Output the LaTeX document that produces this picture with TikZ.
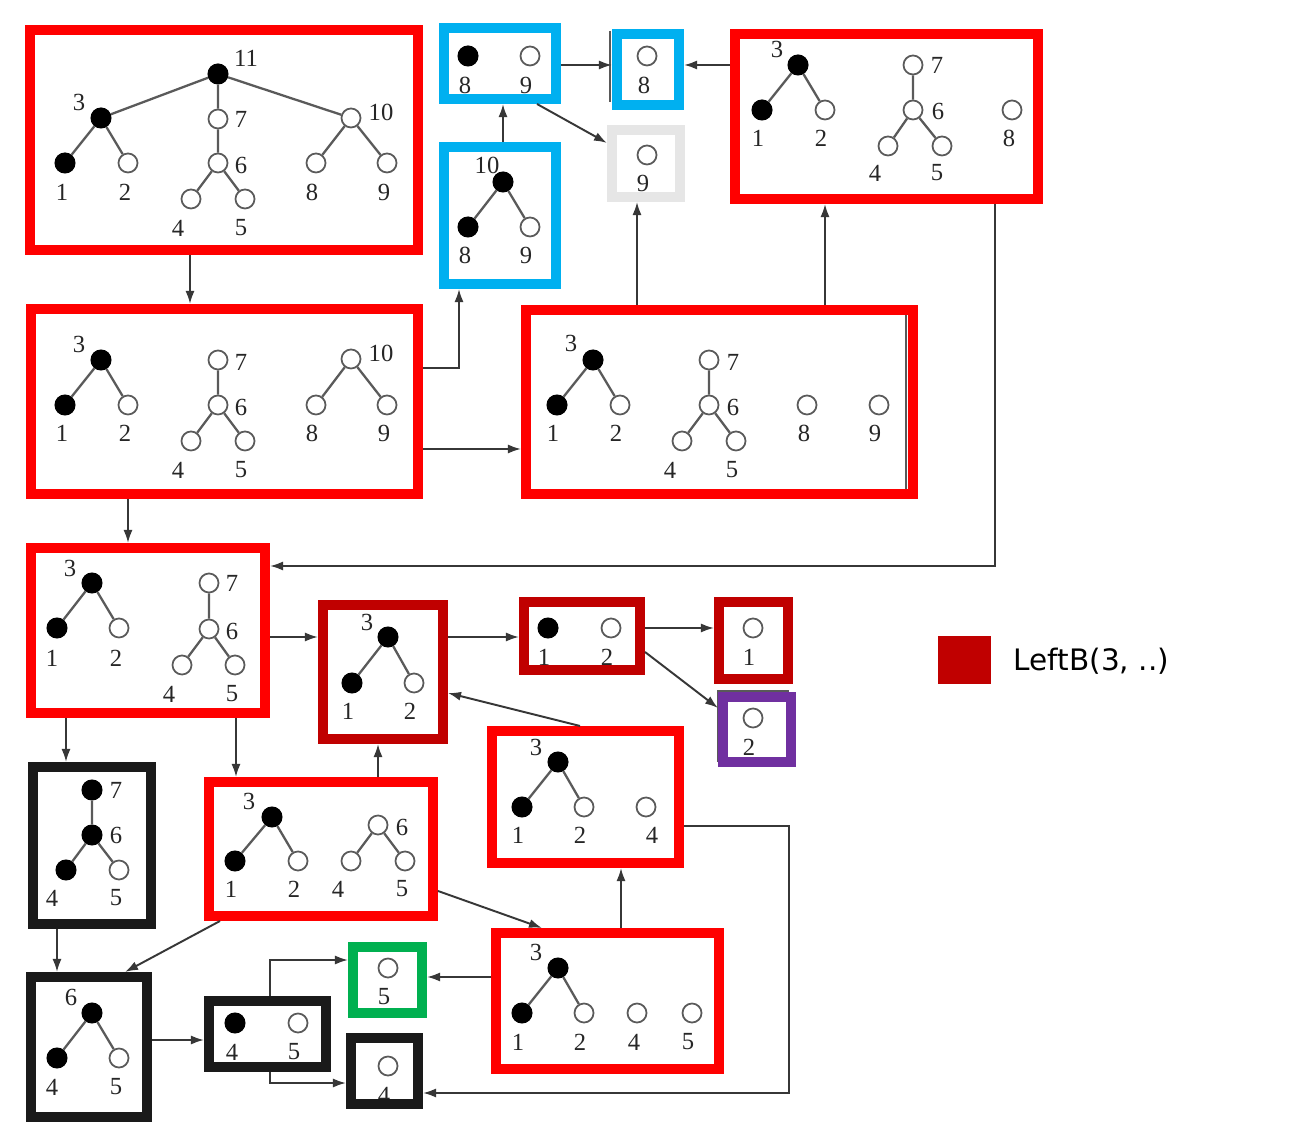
\documentclass[tikz,border=0pt]{standalone}
\usepackage{fontspec}
\setmainfont{Liberation Serif}
\newfontfamily\legendfont{DejaVu Sans}
\usetikzlibrary{arrows.meta}
\definecolor{bred}{RGB}{255,0,0}
\definecolor{bdred}{RGB}{192,0,0}
\definecolor{bblue}{RGB}{0,176,240}
\definecolor{bgray}{RGB}{230,230,230}
\definecolor{bgreen}{RGB}{0,176,80}
\definecolor{bpurple}{RGB}{112,48,160}
\definecolor{bblack}{RGB}{26,26,26}
\definecolor{arrgray}{RGB}{55,55,55}
\definecolor{edgegray}{RGB}{90,90,90}
\tikzset{
  fcirc/.style={circle,fill=black,draw=black,line width=0.3pt,minimum size=0.2cm,inner sep=0pt},
  ocirc/.style={circle,fill=white,draw=edgegray,line width=0.5pt,minimum size=0.19cm,inner sep=0pt},
  tedge/.style={draw=edgegray,line width=0.65pt},
  lbl/.style={inner sep=0pt,text=black!85,font=\fontsize{7}{8}\selectfont},
  boxst/.style={rectangle,line width=0.1cm,inner sep=0pt,outer sep=0.05cm},
  arr/.style={draw=arrgray,line width=0.55pt,-{Latex[length=1.3mm,width=0.9mm]}},
}
\newcommand\FN[3]{\node[fcirc] (#1) at (#2,#3) {};}
\newcommand\ON[3]{\node[ocirc] (#1) at (#2,#3) {};}
\newcommand\LB[4]{\node[lbl] (#1) at (#2,#3) {#4};}
\newcommand\BX[6]{\node[boxst,draw=#2,minimum width={(#5-#3)*0.01cm},minimum height={(#6-#4)*0.01cm}] (#1) at ({(#3+#5)/2},{(#4+#6)/2}) {};}
\begin{document}
\begin{tikzpicture}[x=0.01cm,y=-0.01cm]
\path[fill=white,use as bounding box] (0,0) rectangle (1300,1125);
% ---------- trees ----------
% A
\FN{a11}{218}{74}\FN{a3}{101}{118}\FN{a1}{65}{163}\ON{a2}{128}{163}
\ON{a7}{218}{119}\ON{a6}{218}{163}\ON{a4}{191}{199}\ON{a5}{245}{199}
\ON{a10}{351}{118}\ON{a8}{316}{163}\ON{a9}{387}{163}
\draw[tedge] (a11)--(a3) (a11)--(a7) (a11)--(a10) (a3)--(a1) (a3)--(a2) (a7)--(a6) (a6)--(a4) (a6)--(a5) (a10)--(a8) (a10)--(a9);
\LB{la11}{246}{58}{11}\LB{la3}{79}{102}{3}\LB{la1}{62}{192}{1}\LB{la2}{125}{192}{2}
\LB{la7}{241}{119}{7}\LB{la6}{241}{165}{6}\LB{la4}{178}{228}{4}\LB{la5}{241}{228}{5}
\LB{la10}{381}{112}{10}\LB{la8}{312}{192}{8}\LB{la9}{384}{192}{9}
% B
\FN{b3}{101}{360}\FN{b1}{65}{405}\ON{b2}{128}{405}
\ON{b7}{218}{360}\ON{b6}{218}{405}\ON{b4}{191}{441}\ON{b5}{245}{441}
\ON{b10}{351}{359}\ON{b8}{316}{405}\ON{b9}{387}{405}
\draw[tedge] (b3)--(b1) (b3)--(b2) (b7)--(b6) (b6)--(b4) (b6)--(b5) (b10)--(b8) (b10)--(b9);
\LB{lb3}{79}{344}{3}\LB{lb1}{62}{433}{1}\LB{lb2}{125}{433}{2}
\LB{lb7}{241}{362}{7}\LB{lb6}{241}{407}{6}\LB{lb4}{178}{470}{4}\LB{lb5}{241}{470}{5}
\LB{lb10}{381}{353}{10}\LB{lb8}{312}{433}{8}\LB{lb9}{384}{433}{9}
% C
\FN{c3}{593}{360}\FN{c1}{557}{405}\ON{c2}{620}{405}
\ON{c7}{709}{360}\ON{c6}{709}{405}\ON{c4}{682}{441}\ON{c5}{736}{441}
\ON{c8}{807}{405}\ON{c9}{879}{405}
\draw[tedge] (c3)--(c1) (c3)--(c2) (c7)--(c6) (c6)--(c4) (c6)--(c5);
\LB{lc3}{571}{343}{3}\LB{lc1}{553}{433}{1}\LB{lc2}{616}{433}{2}
\LB{lc7}{733}{362}{7}\LB{lc6}{733}{407}{6}\LB{lc4}{670}{470}{4}\LB{lc5}{732}{470}{5}
\LB{lc8}{804}{433}{8}\LB{lc9}{875}{433}{9}
% D
\FN{d3}{798}{65}\FN{d1}{762}{110}\ON{d2}{825}{110}
\ON{d7}{913}{65}\ON{d6}{913}{110}\ON{d4}{888}{146}\ON{d5}{942}{146}\ON{d8}{1012}{110}
\draw[tedge] (d3)--(d1) (d3)--(d2) (d7)--(d6) (d6)--(d4) (d6)--(d5);
\LB{ld3}{777}{49}{3}\LB{ld1}{758}{138}{1}\LB{ld2}{821}{138}{2}
\LB{ld7}{937}{65}{7}\LB{ld6}{938}{111}{6}\LB{ld4}{875}{173}{4}\LB{ld5}{937}{173}{5}\LB{ld8}{1009}{138}{8}
% E F G H
\FN{e8}{468}{56}\ON{e9}{530}{56}\LB{le8}{465}{85}{8}\LB{le9}{526}{85}{9}
\ON{f8}{647}{56}\LB{lf8}{644}{85}{8}
\ON{g9}{647}{155}\LB{lg9}{643}{183}{9}
\FN{h10}{503}{182}\FN{h8}{468}{227}\ON{h9}{530}{227}
\draw[tedge] (h10)--(h8) (h10)--(h9);
\LB{lh10}{487}{165}{10}\LB{lh8}{465}{255}{8}\LB{lh9}{526}{255}{9}
% I
\FN{i3}{92}{583}\FN{i1}{57}{628}\ON{i2}{119}{628}
\ON{i7}{209}{583}\ON{i6}{209}{629}\ON{i4}{182}{665}\ON{i5}{235}{665}
\draw[tedge] (i3)--(i1) (i3)--(i2) (i7)--(i6) (i6)--(i4) (i6)--(i5);
\LB{li3}{70}{568}{3}\LB{li1}{52}{658}{1}\LB{li2}{116}{658}{2}
\LB{li7}{232}{583}{7}\LB{li6}{232}{631}{6}\LB{li4}{169}{694}{4}\LB{li5}{232}{694}{5}
% J K L M
\FN{j3}{388}{637}\FN{j1}{352}{683}\ON{j2}{414}{683}
\draw[tedge] (j3)--(j1) (j3)--(j2);
\LB{lj3}{367}{622}{3}\LB{lj1}{348}{711}{1}\LB{lj2}{410}{711}{2}
\FN{k1}{548}{628}\ON{k2}{611}{628}\LB{lk1}{544}{657}{1}\LB{lk2}{607}{657}{2}
\ON{l1}{753}{628}\LB{ll1}{749}{657}{1}
\ON{m2}{753}{718}\LB{lm2}{749}{747}{2}
% N
\FN{n3}{558}{762}\FN{n1}{522}{807}\ON{n2}{584}{807}\ON{n4}{646}{807}
\draw[tedge] (n3)--(n1) (n3)--(n2);
\LB{ln3}{536}{747}{3}\LB{ln1}{518}{835}{1}\LB{ln2}{580}{835}{2}\LB{ln4}{652}{835}{4}
% O
\FN{o3}{272}{817}\FN{o1}{235}{861}\ON{o2}{298}{861}\ON{o6}{378}{825}\ON{o4}{351}{861}\ON{o5}{405}{861}
\draw[tedge] (o3)--(o1) (o3)--(o2) (o6)--(o4) (o6)--(o5);
\LB{lo3}{249}{801}{3}\LB{lo1}{231}{889}{1}\LB{lo2}{294}{889}{2}\LB{lo6}{402}{827}{6}\LB{lo4}{338}{889}{4}\LB{lo5}{402}{889}{5}
% P
\FN{p7}{92}{790}\FN{p6}{92}{835}\FN{p4}{66}{870}\ON{p5}{119}{870}
\draw[tedge] (p7)--(p6) (p6)--(p4) (p6)--(p5);
\LB{lp7}{116}{790}{7}\LB{lp6}{116}{835}{6}\LB{lp4}{52}{898}{4}\LB{lp5}{116}{898}{5}
% R
\FN{r6}{92}{1013}\FN{r4}{57}{1058}\ON{r5}{119}{1058}
\draw[tedge] (r6)--(r4) (r6)--(r5);
\LB{lr6}{71}{997}{6}\LB{lr4}{52}{1087}{4}\LB{lr5}{116}{1087}{5}
% S T Q
\FN{s4}{235}{1023}\ON{s5}{298}{1023}\LB{ls4}{232}{1052}{4}\LB{ls5}{294}{1052}{5}
\ON{t5}{388}{968}\LB{lt5}{384}{997}{5}
\ON{q4}{388}{1066}\LB{lq4}{384}{1095}{4}
% U
\FN{u3}{558}{968}\FN{u1}{522}{1013}\ON{u2}{584}{1013}\ON{u4}{637}{1013}\ON{u5}{692}{1013}
\draw[tedge] (u3)--(u1) (u3)--(u2);
\LB{lu3}{536}{952}{3}\LB{lu1}{518}{1042}{1}\LB{lu2}{580}{1042}{2}\LB{lu4}{634}{1042}{4}\LB{lu5}{688}{1042}{5}
% ---------- leftover thin frame lines ----------
\draw[gray!70!black,line width=0.4pt] (906,313) -- (906,491);
\draw[gray!70!black,line width=0.4pt] (610,31) -- (610,102);
\draw[gray!70!black,line width=0.4pt] (718,762) -- (718,691) -- (789,691);
% ---------- boxes ----------
\BX{A}{bred}{30}{30}{418}{250}
\BX{B}{bred}{31}{309}{418}{494}
\BX{C}{bred}{526}{310}{913}{494}
\BX{D}{bred}{735}{34}{1038}{199}
\BX{E}{bblue}{444}{28}{556}{99}
\BX{F}{bblue}{617}{34}{679}{105}
\BX{G}{bgray}{612}{130}{680}{197}
\BX{H}{bblue}{444}{147}{556}{284}
\BX{I}{bred}{31}{548}{265}{713}
\BX{J}{bdred}{323}{605}{443}{739}
\BX{K}{bdred}{524}{602}{640}{670}
\BX{L}{bdred}{719}{602}{788}{679}
\BX{M}{bpurple}{723}{697}{791}{762}
\BX{N}{bred}{492}{731}{679}{863}
\BX{O}{bred}{209}{782}{433}{916}
\BX{P}{bblack}{33}{767}{151}{924}
\BX{R}{bblack}{31}{977}{147}{1117}
\BX{S}{bblack}{209}{1001}{326}{1067}
\BX{T}{bgreen}{353}{947}{422}{1013}
\BX{Q}{bblack}{351}{1038}{418}{1104}
\BX{U}{bred}{496}{933}{719}{1069}
% ---------- connectors ----------
\draw[arr] (A.south -| 190,0) -- (B.north -| 190,0);
\draw[arr] (B.east |- 0,368) -| (H.south -| 459,0);
\draw[arr] (B.east |- 0,449) -- (C.west |- 0,449);
\draw[arr] (H.north -| 503,0) -- (E.south -| 503,0);
\draw[arr] (E.east |- 0,65) -- (F.west |- 0,65);
\draw[arr] (D.west |- 0,65) -- (F.east |- 0,65);
\draw[arr] (E.south -| 537,0) -- (G.west |- 0,143);
\draw[arr] (C.north -| 637,0) -- (G.south -| 637,0);
\draw[arr] (C.north -| 825,0) -- (D.south -| 825,0);
\draw[arr] (D.south -| 995,0) |- (I.east |- 0,566);
\draw[arr] (B.south -| 128,0) -- (I.north -| 128,0);
\draw[arr] (I.east |- 0,637) -- (J.west |- 0,637);
\draw[arr] (J.east |- 0,637) -- (K.west |- 0,637);
\draw[arr] (K.east |- 0,628) -- (L.west |- 0,628);
\draw[arr] (K.east |- 0,652) -- (M.west |- 0,708);
\draw[arr] (N.north -| 580,0) -- (J.east |- 0,693);
\draw[arr] (N.east |- 0,826) -| (789,1093) -- (Q.east |- 0,1093);
\draw[arr] (I.south -| 236,0) -- (O.north -| 236,0);
\draw[arr] (O.north -| 378,0) -- (J.south -| 378,0);
\draw[arr] (I.south -| 66,0) -- (P.north -| 66,0);
\draw[arr] (P.south -| 57,0) -- (R.north -| 57,0);
\draw[arr] (O.south -| 220,0) -- (R.north -| 125,0);
\draw[arr] (R.east |- 0,1040) -- (S.west |- 0,1040);
\draw[arr] (S.north -| 270,0) |- (T.west |- 0,960);
\draw[arr] (S.south -| 270,0) |- (Q.west |- 0,1083);
\draw[arr] (O.east |- 0,891) -- (U.north -| 542,0);
\draw[arr] (U.north -| 621,0) -- (N.south -| 621,0);
\draw[arr] (U.west |- 0,977) -- (T.east |- 0,977);
% ---------- legend ----------
\node[rectangle,fill=bdred,minimum width=0.53cm,minimum height=0.48cm,inner sep=0pt] (leg) at (964.5,660) {};
\node[anchor=base west,inner sep=0pt,font=\legendfont\fontsize{8.4}{10}\selectfont] (legtext) at (1013,671) {LeftB(3, ..)};
\end{tikzpicture}
\end{document}
